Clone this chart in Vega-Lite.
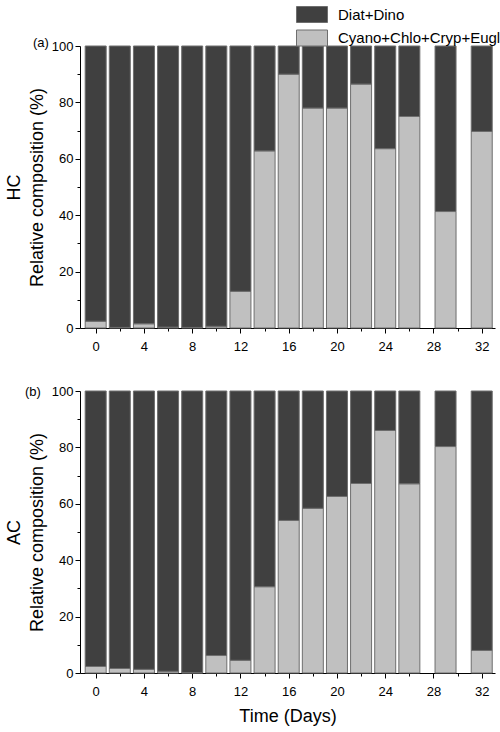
{
  "$schema": "https://vega.github.io/schema/vega-lite/v6.json",
  "padding": {"left": 5, "top": 7, "right": 5, "bottom": 3},
  "background": "white",
  "config": {
    "font": "Liberation Sans",
    "view": {"stroke": null},
    "axis": {"domainColor": "#000", "tickColor": "#000", "labelColor": "#000", "titleColor": "#000", "labelFont": "Liberation Sans", "titleFont": "Liberation Sans", "titleFontWeight": "normal", "grid": false},
    "concat": {"spacing": 63}
  },
  "datasets": {
    "comp": [
      {"panel": "HC", "day": 0, "group": "Cyano+Chlo+Cryp+Eugl", "value": 2.4},
      {"panel": "HC", "day": 0, "group": "Diat+Dino", "value": 97.6},
      {"panel": "HC", "day": 2, "group": "Cyano+Chlo+Cryp+Eugl", "value": 0.2},
      {"panel": "HC", "day": 2, "group": "Diat+Dino", "value": 99.8},
      {"panel": "HC", "day": 4, "group": "Cyano+Chlo+Cryp+Eugl", "value": 1.5},
      {"panel": "HC", "day": 4, "group": "Diat+Dino", "value": 98.5},
      {"panel": "HC", "day": 6, "group": "Cyano+Chlo+Cryp+Eugl", "value": 0.3},
      {"panel": "HC", "day": 6, "group": "Diat+Dino", "value": 99.7},
      {"panel": "HC", "day": 8, "group": "Cyano+Chlo+Cryp+Eugl", "value": 0.2},
      {"panel": "HC", "day": 8, "group": "Diat+Dino", "value": 99.8},
      {"panel": "HC", "day": 10, "group": "Cyano+Chlo+Cryp+Eugl", "value": 0.6},
      {"panel": "HC", "day": 10, "group": "Diat+Dino", "value": 99.4},
      {"panel": "HC", "day": 12, "group": "Cyano+Chlo+Cryp+Eugl", "value": 13.0},
      {"panel": "HC", "day": 12, "group": "Diat+Dino", "value": 87.0},
      {"panel": "HC", "day": 14, "group": "Cyano+Chlo+Cryp+Eugl", "value": 62.8},
      {"panel": "HC", "day": 14, "group": "Diat+Dino", "value": 37.2},
      {"panel": "HC", "day": 16, "group": "Cyano+Chlo+Cryp+Eugl", "value": 90.0},
      {"panel": "HC", "day": 16, "group": "Diat+Dino", "value": 10.0},
      {"panel": "HC", "day": 18, "group": "Cyano+Chlo+Cryp+Eugl", "value": 78.0},
      {"panel": "HC", "day": 18, "group": "Diat+Dino", "value": 22.0},
      {"panel": "HC", "day": 20, "group": "Cyano+Chlo+Cryp+Eugl", "value": 78.0},
      {"panel": "HC", "day": 20, "group": "Diat+Dino", "value": 22.0},
      {"panel": "HC", "day": 22, "group": "Cyano+Chlo+Cryp+Eugl", "value": 86.5},
      {"panel": "HC", "day": 22, "group": "Diat+Dino", "value": 13.5},
      {"panel": "HC", "day": 24, "group": "Cyano+Chlo+Cryp+Eugl", "value": 63.6},
      {"panel": "HC", "day": 24, "group": "Diat+Dino", "value": 36.4},
      {"panel": "HC", "day": 26, "group": "Cyano+Chlo+Cryp+Eugl", "value": 75.0},
      {"panel": "HC", "day": 26, "group": "Diat+Dino", "value": 25.0},
      {"panel": "HC", "day": 29, "group": "Cyano+Chlo+Cryp+Eugl", "value": 41.3},
      {"panel": "HC", "day": 29, "group": "Diat+Dino", "value": 58.7},
      {"panel": "HC", "day": 32, "group": "Cyano+Chlo+Cryp+Eugl", "value": 69.7},
      {"panel": "HC", "day": 32, "group": "Diat+Dino", "value": 30.3},
      {"panel": "AC", "day": 0, "group": "Cyano+Chlo+Cryp+Eugl", "value": 2.3},
      {"panel": "AC", "day": 0, "group": "Diat+Dino", "value": 97.7},
      {"panel": "AC", "day": 2, "group": "Cyano+Chlo+Cryp+Eugl", "value": 1.6},
      {"panel": "AC", "day": 2, "group": "Diat+Dino", "value": 98.4},
      {"panel": "AC", "day": 4, "group": "Cyano+Chlo+Cryp+Eugl", "value": 1.3},
      {"panel": "AC", "day": 4, "group": "Diat+Dino", "value": 98.7},
      {"panel": "AC", "day": 6, "group": "Cyano+Chlo+Cryp+Eugl", "value": 0.6},
      {"panel": "AC", "day": 6, "group": "Diat+Dino", "value": 99.4},
      {"panel": "AC", "day": 8, "group": "Cyano+Chlo+Cryp+Eugl", "value": 0.1},
      {"panel": "AC", "day": 8, "group": "Diat+Dino", "value": 99.9},
      {"panel": "AC", "day": 10, "group": "Cyano+Chlo+Cryp+Eugl", "value": 6.2},
      {"panel": "AC", "day": 10, "group": "Diat+Dino", "value": 93.8},
      {"panel": "AC", "day": 12, "group": "Cyano+Chlo+Cryp+Eugl", "value": 4.5},
      {"panel": "AC", "day": 12, "group": "Diat+Dino", "value": 95.5},
      {"panel": "AC", "day": 14, "group": "Cyano+Chlo+Cryp+Eugl", "value": 30.6},
      {"panel": "AC", "day": 14, "group": "Diat+Dino", "value": 69.4},
      {"panel": "AC", "day": 16, "group": "Cyano+Chlo+Cryp+Eugl", "value": 54.1},
      {"panel": "AC", "day": 16, "group": "Diat+Dino", "value": 45.9},
      {"panel": "AC", "day": 18, "group": "Cyano+Chlo+Cryp+Eugl", "value": 58.4},
      {"panel": "AC", "day": 18, "group": "Diat+Dino", "value": 41.6},
      {"panel": "AC", "day": 20, "group": "Cyano+Chlo+Cryp+Eugl", "value": 62.6},
      {"panel": "AC", "day": 20, "group": "Diat+Dino", "value": 37.4},
      {"panel": "AC", "day": 22, "group": "Cyano+Chlo+Cryp+Eugl", "value": 67.2},
      {"panel": "AC", "day": 22, "group": "Diat+Dino", "value": 32.8},
      {"panel": "AC", "day": 24, "group": "Cyano+Chlo+Cryp+Eugl", "value": 86.0},
      {"panel": "AC", "day": 24, "group": "Diat+Dino", "value": 14.0},
      {"panel": "AC", "day": 26, "group": "Cyano+Chlo+Cryp+Eugl", "value": 67.1},
      {"panel": "AC", "day": 26, "group": "Diat+Dino", "value": 32.9},
      {"panel": "AC", "day": 29, "group": "Cyano+Chlo+Cryp+Eugl", "value": 80.3},
      {"panel": "AC", "day": 29, "group": "Diat+Dino", "value": 19.7},
      {"panel": "AC", "day": 32, "group": "Cyano+Chlo+Cryp+Eugl", "value": 8.0},
      {"panel": "AC", "day": 32, "group": "Diat+Dino", "value": 92.0}
    ]
  },
  "vconcat": [
    {
      "width": 415,
      "height": 282,
      "data": {"name": "comp"},
      "transform": [{"filter": "datum.panel === 'HC'"}],
      "title": {"text": "(a)", "anchor": "start", "frame": "group", "orient": "top", "offset": 0, "baseline": "middle", "dx": -47, "dy": 16, "fontSize": 13, "fontWeight": "normal", "color": "#000"},
      "mark": {"type": "bar", "size": 21, "stroke": "#6e6e6e", "strokeWidth": 1},
      "encoding": {
        "x": {"field": "day", "type": "quantitative", "scale": {"domain": [-1.3, 33.1], "nice": false, "zero": false, "padding": 0},
          "axis": {"title": null, "values": [0, 2, 4, 6, 8, 10, 12, 14, 16, 18, 20, 22, 24, 26, 28, 30, 32], "labelExpr": "datum.value % 4 === 0 ? datum.label : ''", "tickSize": {"condition": {"test": "datum.value % 4 === 0", "value": 5}, "value": 3}, "labelFontSize": 13, "labelPadding": 7, "labelFlush": false}},
        "y": {"field": "value", "type": "quantitative", "stack": "zero", "scale": {"domain": [0, 100], "nice": false},
          "axis": {"title": ["HC", "Relative composition (%)"], "titleFontSize": 18, "titleLineHeight": 23, "titlePadding": 5, "values": [0, 10, 20, 30, 40, 50, 60, 70, 80, 90, 100], "labelExpr": "datum.value % 20 === 0 ? datum.label : ''", "tickSize": {"condition": {"test": "datum.value % 20 === 0", "value": 5}, "value": 3}, "labelFontSize": 13, "labelPadding": 2}},
        "color": {"field": "group", "type": "nominal", "scale": {"domain": ["Diat+Dino", "Cyano+Chlo+Cryp+Eugl"], "range": ["#404040", "#c0c0c0"]},
          "legend": {"title": null, "orient": "none", "legendX": 224.5, "legendY": -39, "symbolType": "M-15.5,-8H15.5V8H-15.5Z", "symbolSize": 4, "symbolStrokeColor": "#6e6e6e", "symbolStrokeWidth": 1, "symbolOpacity": 1, "labelFontSize": 15, "labelOffset": 18.5, "rowPadding": 2.5, "labelColor": "#000", "labelLimit": 300}},
        "order": {"field": "group", "sort": "ascending"}
      }
    },
    {
      "width": 415,
      "height": 282,
      "data": {"name": "comp"},
      "transform": [{"filter": "datum.panel === 'AC'"}],
      "title": {"text": "(b)", "anchor": "start", "frame": "group", "orient": "top", "offset": 0, "baseline": "middle", "dx": -55, "dy": 20, "fontSize": 13, "fontWeight": "normal", "color": "#000"},
      "mark": {"type": "bar", "size": 21, "stroke": "#6e6e6e", "strokeWidth": 1},
      "encoding": {
        "x": {"field": "day", "type": "quantitative", "scale": {"domain": [-1.3, 33.1], "nice": false, "zero": false, "padding": 0},
          "axis": {"title": "Time (Days)", "titleFontSize": 18, "titlePadding": 9, "values": [0, 2, 4, 6, 8, 10, 12, 14, 16, 18, 20, 22, 24, 26, 28, 30, 32], "labelExpr": "datum.value % 4 === 0 ? datum.label : ''", "tickSize": {"condition": {"test": "datum.value % 4 === 0", "value": 5}, "value": 3}, "labelFontSize": 13, "labelPadding": 7, "labelFlush": false}},
        "y": {"field": "value", "type": "quantitative", "stack": "zero", "scale": {"domain": [0, 100], "nice": false},
          "axis": {"title": ["AC", "Relative composition (%)"], "titleFontSize": 18, "titleLineHeight": 23, "titlePadding": 5, "values": [0, 10, 20, 30, 40, 50, 60, 70, 80, 90, 100], "labelExpr": "datum.value % 20 === 0 ? datum.label : ''", "tickSize": {"condition": {"test": "datum.value % 20 === 0", "value": 5}, "value": 3}, "labelFontSize": 13, "labelPadding": 2}},
        "color": {"field": "group", "type": "nominal", "scale": {"domain": ["Diat+Dino", "Cyano+Chlo+Cryp+Eugl"], "range": ["#404040", "#c0c0c0"]}},
        "order": {"field": "group", "sort": "ascending"}
      }
    }
  ],
  "resolve": {"scale": {"color": "shared"}},
  "bounds": "flush"
}
